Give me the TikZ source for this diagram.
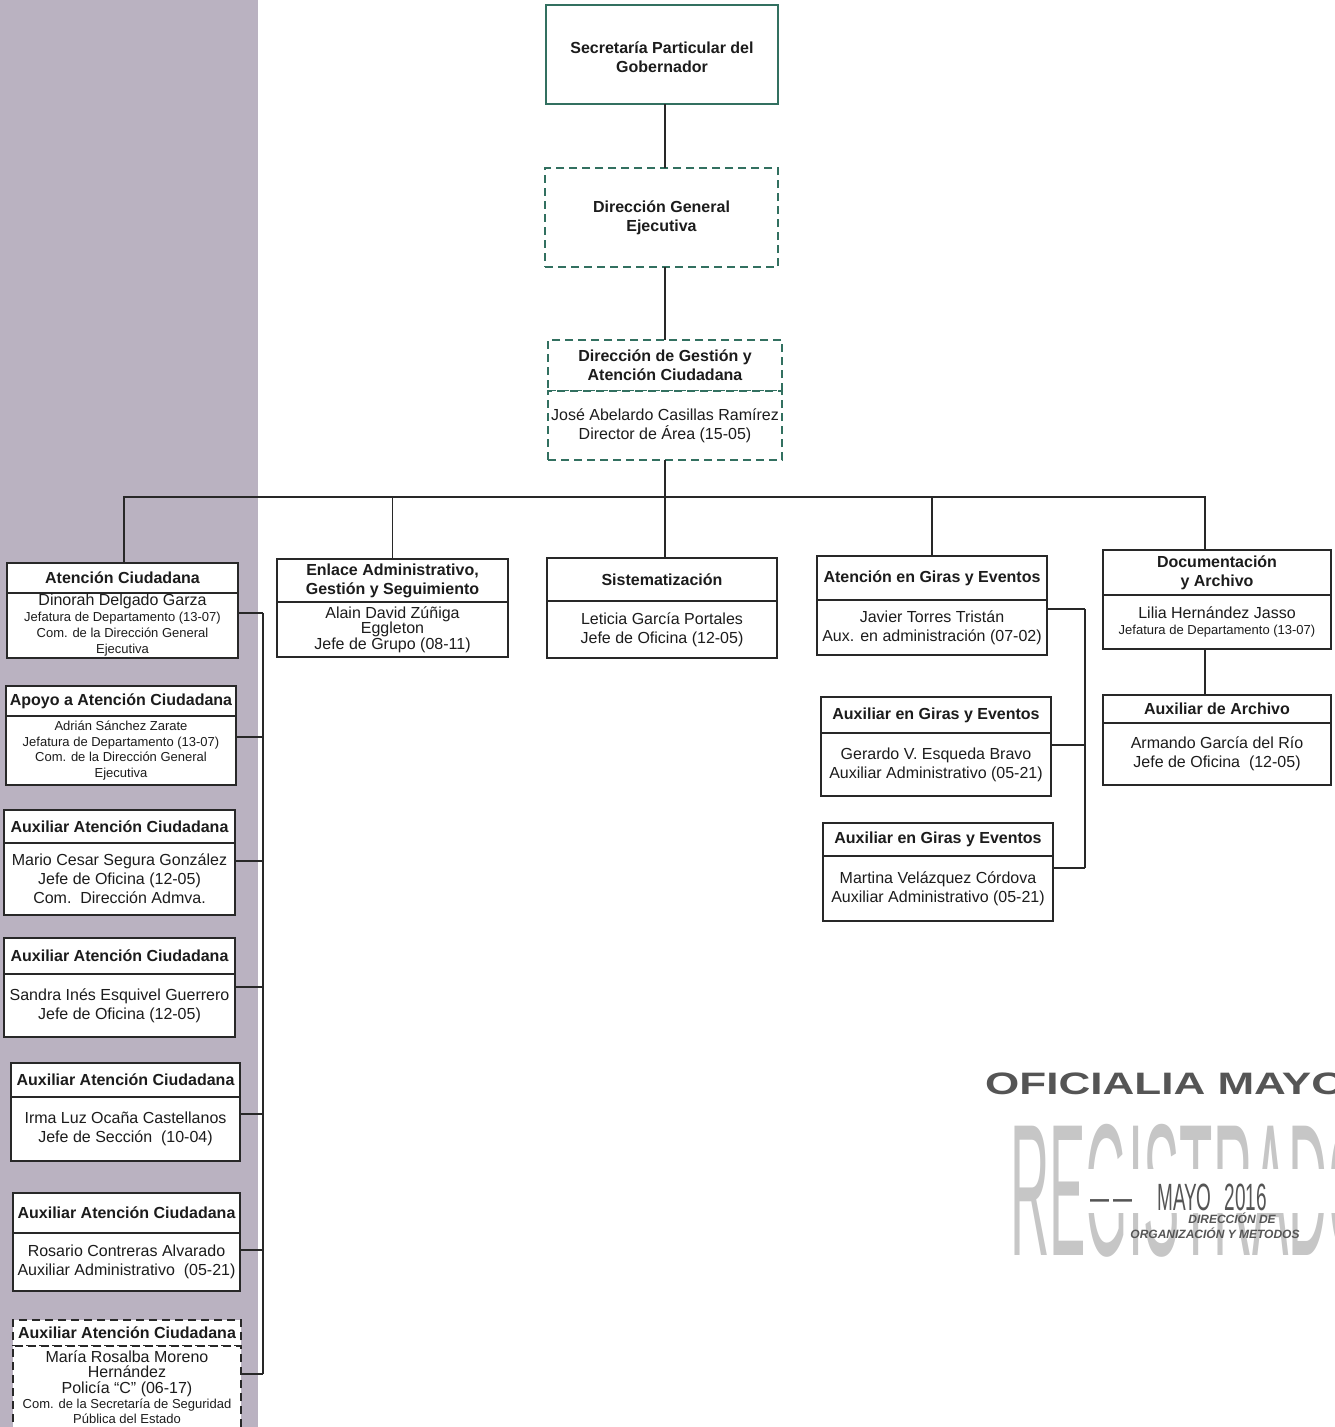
\documentclass[tikz,border=0pt]{standalone}
\usepackage{fontspec}
\setmainfont{Liberation Sans}
\usetikzlibrary{calc}
\definecolor{band}{RGB}{186,178,193}
\definecolor{grn}{RGB}{50,112,96}
\definecolor{ink}{RGB}{28,28,28}
\definecolor{lin}{RGB}{40,40,40}
\definecolor{stampc}{RGB}{85,85,85}
\definecolor{ghost}{RGB}{198,198,198}
\newcommand\bt{\fontsize{16}{19}\selectfont}
\newcommand\sm{\fontsize{13}{15.5}\selectfont}
\tikzset{
  bx/.style={draw=lin, line width=1.8pt, fill=white, inner sep=0pt, outer sep=0pt},
  gbx/.style={bx, draw=grn},
  dsh/.style={dash pattern=on 8pt off 5pt},
  txt/.style={align=center, inner sep=0pt, font=\bt, text=ink},
  ttl/.style={txt, font=\bt\bfseries},
  con/.style={draw=lin, line width=1.8pt},
}
\newcommand\obox[9]{%
  \node[bx,#7,anchor=north west,minimum width={(#4)-(#2)},minimum height={(#5)-(#3)}] (#1) at (#2,#3) {};
  \node[ttl] (#1t) at (#1.center) {#8};
  \node[bx,#7,anchor=north west,minimum width={(#4)-(#2)},minimum height={(#6)-(#5)}] (#1b) at (#2,#5) {};
  \node[txt] (#1bt) at (#1b.center) {#9};
}
\begin{document}
\begin{tikzpicture}[x=1pt,y=-1pt]
\useasboundingbox (0,0) rectangle (1335,1427);
\fill[band] (0,0) rectangle (258,1427);

% top chain
\node[gbx,anchor=north west,minimum width=232,minimum height=99] (sec) at (546,5) {};
\node[ttl] (sect) at ([yshift=-3pt]sec.center) {Secretaría Particular del\\Gobernador};
\node[gbx,dsh,anchor=north west,minimum width=233,minimum height=99] (dge) at (545,168) {};
\node[ttl] (dget) at (dge.center) {Dirección General\\Ejecutiva};
\obox{dg}{548}{340}{782}{391}{460}{gbx,dsh}{Dirección de Gestión y\\Atención Ciudadana}{José Abelardo Casillas Ramírez\\Director de Área (15-05)}

% left column
\obox{ac}{7}{563}{238}{593}{658}{}{Atención Ciudadana}{Dinorah Delgado Garza\\[-3pt]{\sm Jefatura de Departamento (13-07)}\\[-3pt]{\sm Com. de la Dirección General}\\[-3pt]{\sm Ejecutiva}}
\obox{ap}{6}{686}{236}{716}{785}{}{Apoyo a Atención Ciudadana}{{\sm Adrián Sánchez Zarate}\\[-3.5pt]{\sm Jefatura de Departamento (13-07)}\\[-3.5pt]{\sm Com. de la Dirección General}\\[-3.5pt]{\sm Ejecutiva}}
\obox{mc}{4}{810}{235}{843}{915}{}{Auxiliar Atención Ciudadana}{Mario Cesar Segura González\\Jefe de Oficina (12-05)\\Com.\ \ Dirección Admva.}
\obox{sa}{4}{938}{235}{974}{1037}{}{Auxiliar Atención Ciudadana}{Sandra Inés Esquivel Guerrero\\Jefe de Oficina (12-05)}
\obox{ir}{11}{1063}{240}{1097}{1161}{}{Auxiliar Atención Ciudadana}{Irma Luz Ocaña Castellanos\\Jefe de Sección\ \ (10-04)}
\obox{ro}{13}{1193}{240}{1233}{1291}{}{Auxiliar Atención Ciudadana}{Rosario Contreras Alvarado\\Auxiliar Administrativo\ \ (05-21)}
\node[bx,dsh,anchor=north west,minimum width=228,minimum height=26] (ma) at (13,1320) {};
\node[ttl] (mat) at (ma.center) {Auxiliar Atención Ciudadana};
\node[bx,dsh,anchor=north west,minimum width=228,minimum height=100] (mab) at (13,1346) {};
\node[txt,anchor=north] (mabt) at ([yshift=-4pt]mab.north) {María Rosalba Moreno\\[-4pt]Hernández\\[-3pt]Policía “C” (06-17)\\[-3pt]{\sm Com. de la Secretaría de Seguridad}\\[-4pt]{\sm Pública del Estado}};

% middle and right
\obox{en}{277}{559}{508}{602}{657}{}{Enlace Administrativo,\\Gestión y Seguimiento}{Alain David Zúñiga\\[-3.5pt]Eggleton\\[-3.5pt]Jefe de Grupo (08-11)}
\obox{si}{547}{558}{777}{601}{658}{}{Sistematización}{Leticia García Portales\\Jefe de Oficina (12-05)}
\obox{gi}{817}{556}{1047}{600}{655}{}{Atención en Giras y Eventos}{Javier Torres Tristán\\Aux. en administración (07-02)}
\obox{ga}{821}{697}{1051}{733}{796}{}{Auxiliar en Giras y Eventos}{Gerardo V. Esqueda Bravo\\Auxiliar Administrativo (05-21)}
\obox{gb}{823}{823}{1053}{856}{921}{}{Auxiliar en Giras y Eventos}{Martina Velázquez Córdova\\Auxiliar Administrativo (05-21)}
\obox{doc}{1103}{550}{1331}{595}{649}{}{Documentación\\y Archivo}{Lilia Hernández Jasso\\[-3pt]{\sm Jefatura de Departamento (13-07)}}
\obox{arc}{1103}{695}{1331}{723}{785}{}{Auxiliar de Archivo}{Armando García del Río\\Jefe de Oficina\ \ (12-05)}

% connectors
\coordinate (sp) at (665,0);
\coordinate (busL) at (124,497);
\coordinate (busR) at (1205,497);
\draw[con] (sec.south -| sp) -- (dge.north -| sp);
\draw[con] (dge.south -| sp) -- (dg.north -| sp);
\draw[con] (dgb.south -| sp) -- (sp |- busL);
\draw[con] (busL |- ac.north) -- (busL) -- (busR) -- (busR |- doc.north);
\draw[con] (en.north) -- (en.north |- busL);
\draw[con] (si.north -| sp) -- (sp |- busL);
\draw[con] (gi.north) -- (gi.north |- busL);
\draw[con] (busR |- docb.south) -- (busR |- arc.north);

\coordinate (lv) at (263,0);
\draw[con] ([yshift=12.5pt]acb.east) coordinate (t1) -- (t1 -| lv);
\draw[con] ([yshift=13.5pt]apb.east) coordinate (t2) -- (t2 -| lv);
\draw[con] ([yshift=18pt]mcb.east) coordinate (t3) -- (t3 -| lv);
\draw[con] ([yshift=18.5pt]sab.east) coordinate (t4) -- (t4 -| lv);
\draw[con] ([yshift=15pt]irb.east) coordinate (t5) -- (t5 -| lv);
\draw[con] ([yshift=12pt]rob.east) coordinate (t6) -- (t6 -| lv);
\draw[con] ([yshift=-28pt]mab.north east) coordinate (t7) -- (t7 -| lv);
\draw[con] (t1 -| lv) -- (t7 -| lv);

\coordinate (gv) at (1085,0);
\draw[con] ([yshift=18.5pt]gib.east) coordinate (u1) -- (u1 -| gv);
\draw[con] ([yshift=19.5pt]gab.east) coordinate (u2) -- (u2 -| gv);
\draw[con] ([yshift=20.5pt]gbb.east) coordinate (u3) -- (u3 -| gv);
\draw[con] (u1 -| gv) -- (u3 -| gv);

% stamp
\node[anchor=base west, inner sep=0pt, text=stampc] (om) at (985,1094) {\scalebox{1.42}[1]{\fontsize{31}{31}\selectfont\bfseries OFICIALIA MAYOR}};
\begin{scope}
  \clip (990,1100) rectangle (1340,1168) (990,1213) rectangle (1340,1275) (990,1168) rectangle (1078,1213);
  \node[anchor=base west, inner sep=0pt, text=ghost] (reg) at (1010,1255) {\scalebox{0.29}[1]{\fontsize{188}{188}\selectfont REGISTRADO}};
\end{scope}
\node[anchor=base west, inner sep=0pt, text=stampc] (my) at (1090,1210) {\scalebox{0.5}[1]{\fontsize{38}{38}\selectfont —\hspace{8pt}—\hspace{50pt}MAYO\hspace{26pt}2016}};
\node[anchor=base, inner sep=0pt, text=stampc, font=\fontsize{12}{12}\selectfont\bfseries\itshape] (dd) at (1232,1223) {DIRECCIÓN DE};
\node[anchor=base, inner sep=0pt, text=stampc, font=\fontsize{12}{12}\selectfont\bfseries\itshape] (oy) at (1215,1238) {ORGANIZACIÓN Y METODOS};
\end{tikzpicture}
\end{document}
